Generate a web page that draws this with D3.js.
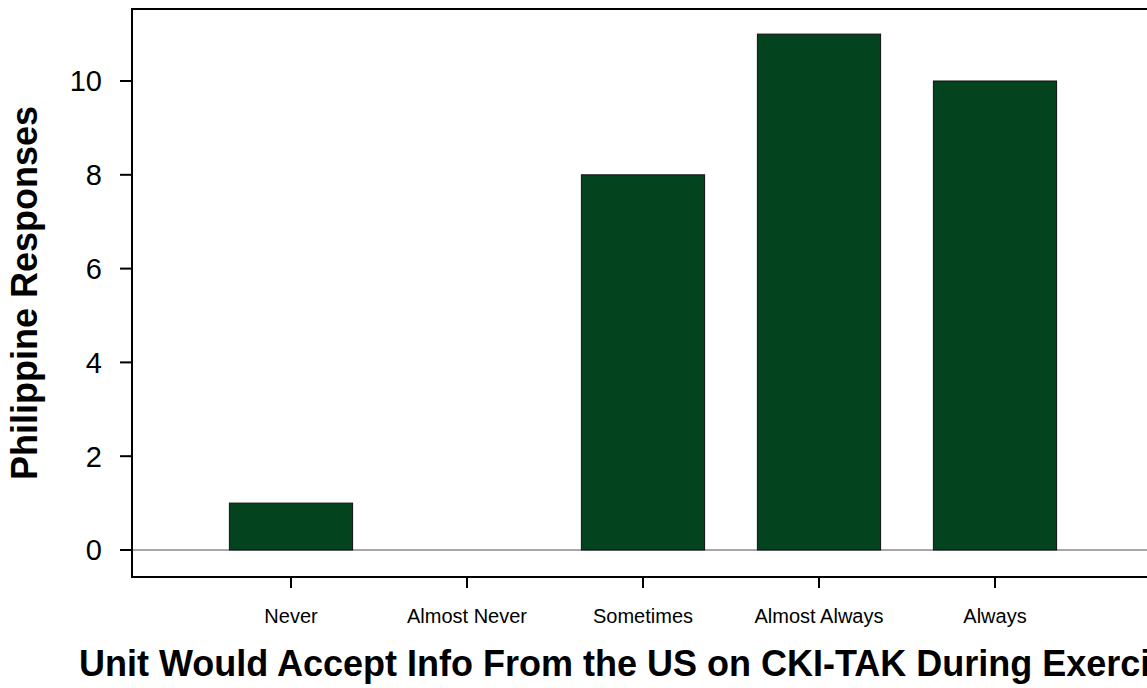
<!DOCTYPE html>
<meta charset="utf-8">
<style>
    body { margin: 0; background: #fff; }
    text { font-family: "Liberation Sans", Arial, sans-serif; fill: #000; }
    .frame line { stroke: #000; stroke-width: 2px; }
    .ytick text { font-size: 29px; }
    .xtick text { font-size: 20px; }
    .title { font-size: 36px; font-weight: bold; }
</style>
<svg width="1147" height="688"></svg>
<script src="https://d3js.org/d3.v7.min.js"></script>
<script>
    var categories = ["Never", "Almost Never", "Sometimes", "Almost Always", "Always"];
    var responses = [1, 0, 8, 11, 10];
    var yTicks = [0, 2, 4, 6, 8, 10];

    var xLabel = "Unit Would Accept Info From the US on CKI-TAK During Exercises";
    var yLabel = "Philippine Responses";

    var svg = d3.select("svg");

    // plot box (right edge runs past the window, as in the original)
    var boxLeft = 132, boxRight = 1200, boxTop = 9, boxBottom = 577;

    var x = d3.scaleBand()
        .domain(categories)
        .range([203, 1083])
        .paddingInner(0.3)
        .paddingOuter(0.15);

    var y = d3.scaleLinear()
        .domain([0, 10])
        .range([550, 81]);

    // zero line
    svg.append("line")
        .attr("x1", boxLeft).attr("x2", boxRight)
        .attr("y1", y(0)).attr("y2", y(0))
        .attr("stroke", "#a8a8a8")
        .attr("stroke-width", 2);

    svg.append("g")
        .selectAll("rect")
        .data(responses)
        .enter().append("rect")
        .attr("x", function (d, i) { return x(categories[i]); })
        .attr("width", x.bandwidth())
        .attr("y", function (d) { return y(d); })
        .attr("height", function (d) { return y(0) - y(d); })
        .attr("fill", "#03431d")
        .attr("stroke", "#111")
        .attr("stroke-width", 1);

    var frame = svg.append("g").attr("class", "frame");
    frame.append("line").attr("x1", boxLeft).attr("x2", boxLeft).attr("y1", boxTop).attr("y2", boxBottom);
    frame.append("line").attr("x1", boxLeft - 1).attr("x2", boxRight).attr("y1", boxTop).attr("y2", boxTop);
    frame.append("line").attr("x1", boxLeft - 1).attr("x2", boxRight).attr("y1", boxBottom).attr("y2", boxBottom);

    // y ticks
    var yt = svg.append("g").attr("class", "ytick")
        .selectAll("g")
        .data(yTicks)
        .enter().append("g")
        .attr("transform", function (d) { return "translate(0," + y(d) + ")"; });
    yt.append("line")
        .attr("x1", boxLeft - 12).attr("x2", boxLeft)
        .attr("stroke", "#000").attr("stroke-width", 2);
    yt.append("text")
        .attr("x", 102)
        .attr("dy", "0.36em")
        .attr("text-anchor", "end")
        .text(function (d) { return d; });

    // x ticks
    var xt = svg.append("g").attr("class", "xtick")
        .selectAll("g")
        .data(categories)
        .enter().append("g")
        .attr("transform", function (d) { return "translate(" + (x(d) + x.bandwidth() / 2) + ",0)"; });
    xt.append("line")
        .attr("y1", boxBottom).attr("y2", boxBottom + 11)
        .attr("stroke", "#000").attr("stroke-width", 2);
    xt.append("text")
        .attr("y", 623)
        .attr("text-anchor", "middle")
        .text(function (d) { return d; });

    svg.append("text")
        .attr("class", "title")
        .attr("x", 79)
        .attr("y", 676)
        .text(xLabel);

    svg.append("text")
        .attr("class", "title")
        .attr("transform", "translate(37,293) rotate(-90)")
        .attr("text-anchor", "middle")
        .text(yLabel);
</script>
